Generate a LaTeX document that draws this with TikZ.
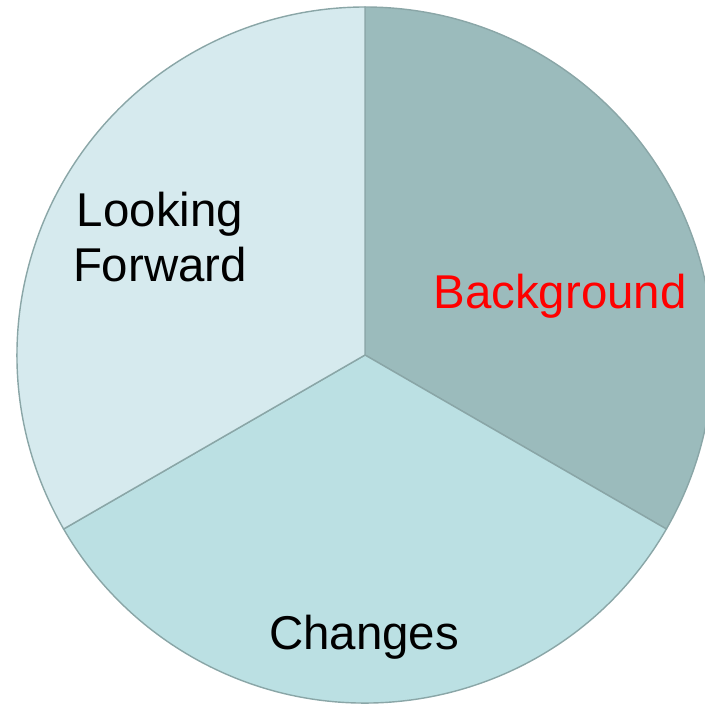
\documentclass[tikz,border=0pt]{standalone}
\usepackage{fontspec}
\setmainfont{Liberation Sans}
\usetikzlibrary{calc}
\tikzset{
  slice/.style={draw=edgecol, line width=0.8pt},
  label/.style={font=\fontsize{27}{31}\selectfont, align=center, inner sep=0pt}
}
\definecolor{edgecol}{HTML}{8AA6A7}
\definecolor{bgcol}{HTML}{9BBBBC}
\definecolor{chcol}{HTML}{BBE0E3}
\definecolor{lfcol}{HTML}{D6EAEE}

\begin{document}
\begin{tikzpicture}[x=0.02cm, y=0.02cm]
			%%%%% START %%%%%
			\useasboundingbox (0, 0) rectangle (705, 704);
			\clip (0, 0) rectangle (705, 704);
			
			\coordinate (c) at (365, 349);
			
			\draw[slice, fill=bgcol] (c) -- ++(90:348) arc (90:-30:348) -- cycle;
			\draw[slice, fill=chcol] (c) -- ++(-30:348) arc (-30:-150:348) -- cycle;
			\draw[slice, fill=lfcol] (c) -- ++(210:348) arc (210:90:348) -- cycle;
			
			\node[label, text=red] (bg) at (560, 408) {Background};
			\node[label] (ch) at (364, 67) {Changes};
			\node[label] (lf) at (160, 467) {Looking\\Forward};
			
			%%%%% END %%%%%
\end{tikzpicture}
\end{document}
